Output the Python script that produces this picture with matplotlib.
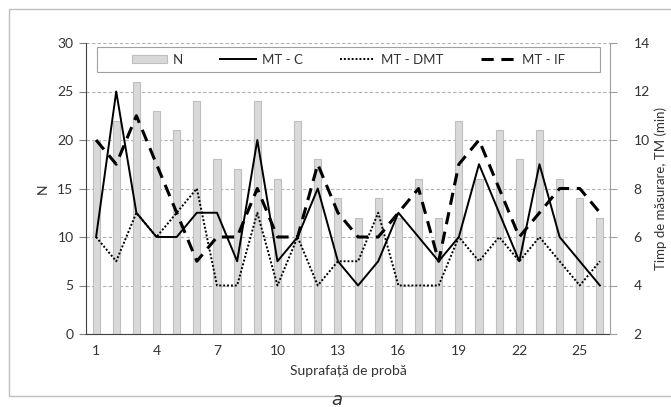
import numpy as np
import matplotlib.pyplot as plt
from matplotlib.patches import Rectangle

plt.rcParams['font.family'] = ['Lato', 'DejaVu Sans']

# sample plots 1..26
plots = np.arange(1, 27)
n_trees = [20, 22, 26, 23, 21, 24, 18, 17, 24, 16, 22, 18, 14,
           12, 14, 12, 16, 12, 22, 16, 21, 18, 21, 16, 14, 12]
# measuring time (min) per method
mt_c = [6, 12, 7, 6, 6, 7, 7, 5, 10, 5, 6, 8, 5,
        4, 5, 7, 6, 5, 6, 9, 7, 5, 9, 6, 5, 4]
mt_dmt = [6, 5, 7, 6, 7, 8, 4, 4, 7, 4, 6, 4, 5,
          5, 7, 4, 4, 4, 6, 5, 6, 5, 6, 5, 4, 5]
mt_if = [10, 9, 11, 9, 7, 5, 6, 6, 8, 6, 6, 9, 7,
         6, 6, 7, 8, 5, 9, 10, 8, 6, 7, 8, 8, 7]

W, H = 671, 407
fig = plt.figure(figsize=(W / 100, H / 100), dpi=100)
ax = fig.add_axes([86 / W, 1 - 334 / H, (610 - 86) / W, (334 - 43) / H])

# outer chart border
fig.patches.append(Rectangle((9 / W, 1 - 396 / H), 1, (396 - 9) / H,
                             transform=fig.transFigure, fill=False,
                             edgecolor='#bfbfbf', linewidth=1))

txt = '#333333'
ax.bar(plots, n_trees, width=0.35, color='#d9d9d9', edgecolor='#bfbfbf',
       linewidth=0.8, label='N', zorder=2)
ax.set_xlim(0.5, 26.5)
ax.set_ylim(0, 30)
ax.set_yticks(range(0, 31, 5))
ax.set_xticks(range(1, 27, 3))
ax.yaxis.grid(True, color='#b0b0b0', linestyle=(0, (3, 2)), linewidth=0.8)
ax.set_axisbelow(True)
ax.set_ylabel('N', fontsize=10, color=txt, labelpad=6)
ax.set_xlabel('Suprafață de probă', fontsize=10, color=txt, labelpad=6)
ax.tick_params(axis='y', length=5, color='#808080', labelsize=10,
               labelcolor=txt, pad=4)
ax.tick_params(axis='x', length=0, labelsize=10, labelcolor=txt, pad=8)
for s in ['top', 'right']:
    ax.spines[s].set_visible(False)
ax.spines['left'].set_color('#404040')
ax.spines['bottom'].set_color('#404040')

ax2 = ax.twinx()
ax2.plot(plots, mt_c, color='black', linewidth=1.4, label='MT - C')
ax2.plot(plots, mt_dmt, color='black', linewidth=1.4, linestyle=(0, (1, 1)),
         label='MT - DMT')
ax2.plot(plots, mt_if, color='black', linewidth=2.2, linestyle=(0, (4, 2.5)),
         label='MT - IF')
ax2.set_ylim(2, 14)
ax2.set_yticks(range(2, 15, 2))
ax2.set_ylabel('Timp de măsurare, TM (min)', fontsize=9.5, color=txt,
               labelpad=3)
ax2.tick_params(axis='y', length=5, color='#a0a0a0', labelsize=10,
                labelcolor=txt, pad=12)
for s in ['top', 'left', 'bottom']:
    ax2.spines[s].set_visible(False)
ax2.spines['right'].set_color('#a0a0a0')

# legend frame drawn separately, entries centred inside it
lx0, lx1, ly0, ly1 = 97, 600, 47, 72
ax2.add_patch(Rectangle((lx0 / W, 1 - ly1 / H), (lx1 - lx0) / W,
                        (ly1 - ly0) / H, transform=fig.transFigure,
                        facecolor='white', edgecolor='#a0a0a0',
                        linewidth=0.8, zorder=4))
h1, l1 = ax.get_legend_handles_labels()
h2, l2 = ax2.get_legend_handles_labels()
leg = ax2.legend(h1 + h2, l1 + l2, ncol=4, loc='center',
                 bbox_to_anchor=((lx0 + lx1) / 2 / W, 1 - (ly0 + ly1) / 2 / H),
                 bbox_transform=fig.transFigure, frameon=False,
                 fontsize=9.5, handlelength=2.7, handletextpad=0.45,
                 columnspacing=2.8, handleheight=0.6)
leg.set_zorder(5)
for t in leg.get_texts():
    t.set_color(txt)

fig.text(337 / W, 1 - 405 / H, '$a$', fontsize=13, ha='center',
         va='baseline', color=txt)

fig.savefig('out.png', dpi=100)
